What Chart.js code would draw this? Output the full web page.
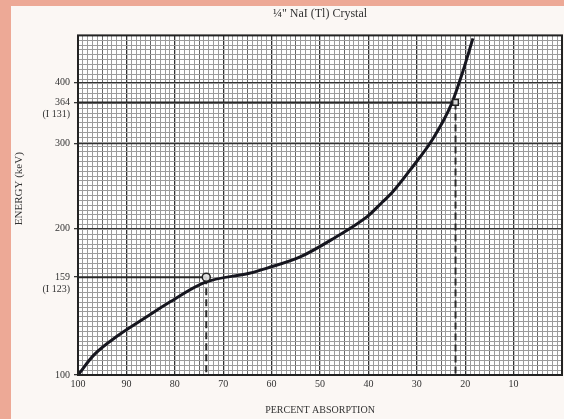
<!DOCTYPE html>
<html>
<head>
<meta charset="utf-8">
<script src="https://cdn.jsdelivr.net/npm/chart.js@4"></script>
<style>
  html, body { margin: 0; padding: 0; }
  body { width: 564px; height: 419px; background: #eda996; position: relative; overflow: hidden; }
  #panel { position: absolute; left: 11px; top: 6px; width: 553px; height: 413px; background: #fbf7f4; }
  #wrap { position: absolute; left: 0; top: 0; width: 564px; height: 419px; }
</style>
</head>
<body>
<div id="panel"></div>
<div id="wrap"><canvas id="c" width="564" height="419"></canvas></div>
<script>
// ---- data ----
const absorption = [100, 96.7, 91.5, 86.2, 81.2, 73.9, 64.6, 60.9, 54.1, 47.2, 40.2, 37.1, 35, 30.9, 26.7, 22.8, 20.5, 18.4];
const energy     = [100, 110, 121, 131, 141, 155, 162, 166, 175, 191, 212, 227, 238, 268, 306, 362, 421, 493];
const markAbsorption = [73.5, 22];
const markEnergy     = [159, 364];
const markIsotope    = ['(I 123)', '(I 131)'];
const xTickLabels    = [100, 90, 80, 70, 60, 50, 40, 30, 20, 10];
const yTickValues    = [100, 159, 200, 300, 364, 400];
const titleText = '\u00BC" NaI (Tl) Crystal';

const serif = '"Liberation Serif", "DejaVu Serif", serif';
const INK = '#16161f';

const datasets = [];
datasets.push({
  label: 'curve',
  data: absorption.map((a, i) => ({ x: a, y: energy[i] })),
  showLine: true, borderColor: INK, borderWidth: 3, pointRadius: 0,
  cubicInterpolationMode: 'monotone', fill: false, order: 1
});
markAbsorption.forEach((a, i) => {
  const e = markEnergy[i];
  datasets.push({
    label: 'h' + i, data: [{ x: 100, y: e }, { x: a, y: e }],
    showLine: true, borderColor: '#2a2a2a', borderWidth: 2, pointRadius: 0, order: 3
  });
  datasets.push({
    label: 'v' + i, data: [{ x: a, y: e }, { x: a, y: 100 }],
    showLine: true, borderColor: '#2a2a2a', borderWidth: 2, borderDash: [7, 4], pointRadius: 0, order: 3
  });
});
datasets.push({
  label: 'marks',
  data: markAbsorption.map((a, i) => ({ x: a, y: markEnergy[i] })),
  showLine: false, pointStyle: ['circle', 'rect'], pointRadius: 4,
  pointBackgroundColor: 'rgba(225,225,225,0.9)', pointBorderColor: '#222', pointBorderWidth: 1.5, order: 0
});

const framePlugin = {
  id: 'frame',
  beforeDraw(chart) {
    const { ctx, chartArea: a } = chart;
    ctx.save(); ctx.fillStyle = '#ffffff';
    ctx.fillRect(a.left, a.top, a.right - a.left, a.bottom - a.top);
    ctx.restore();
  },
  afterDraw(chart) {
    const { ctx, chartArea: a } = chart;
    ctx.save(); ctx.strokeStyle = '#222'; ctx.lineWidth = 2;
    ctx.strokeRect(a.left, a.top, a.right - a.left, a.bottom - a.top);
    ctx.restore();
  }
};

const pad = '\u00A0'.repeat(12);

new Chart(document.getElementById('c'), {
  type: 'scatter',
  data: { datasets },
  plugins: [framePlugin],
  options: {
    responsive: false, animation: false, devicePixelRatio: 1,
    layout: { autoPadding: false, padding: { left: 9, right: 2, top: 0, bottom: 0 } },
    plugins: {
      legend: { display: false }, tooltip: { enabled: false },
      title: { display: true, text: titleText, color: '#333', fullSize: false,
        font: { family: serif, size: 12, weight: 'normal' }, padding: { top: 7, bottom: 14 } }
    },
    scales: {
      x: {
        type: 'linear', position: 'bottom', reverse: true, min: 0, max: 100,
        afterBuildTicks: s => { const t = []; for (let v = 0; v <= 100; v++) t.push({ value: v }); s.ticks = t; },
        afterFit: s => { s.paddingLeft = 0; s.paddingRight = 0; },
        ticks: { autoSkip: false, maxRotation: 0, padding: 3, color: '#333',
          font: { family: serif, size: 10 },
          callback: v => xTickLabels.includes(v) ? String(v) : '' },
        grid: { drawTicks: false,
          color: c => { const v = c.tick.value; return v % 10 === 0 ? '#333' : (v % 5 === 0 ? '#666' : '#9c9c9c'); },
          lineWidth: c => (c.tick.value % 10 === 0 ? 1.3 : 1) },
        border: { display: false },
        title: { display: true, text: 'PERCENT ABSORPTION', color: '#333',
          font: { family: serif, size: 10 }, padding: { top: 11, bottom: 3 } }
      },
      y: {
        type: 'logarithmic', position: 'left', min: 100, max: 500,
        afterBuildTicks: s => { s.ticks = yTickValues.map(v => ({ value: v })); },
        afterFit: s => { s.width = 69; },
        ticks: { autoSkip: false, color: '#333', padding: 4, font: { family: serif, size: 10 },
          callback: v => { const i = markEnergy.indexOf(v); return i >= 0 ? ['', String(v), markIsotope[i]] : String(v); } },
        grid: { drawTicks: true, tickLength: 4,
          color: c => (markEnergy.includes(c.tick.value) ? 'rgba(0,0,0,0)' : '#333'),
          tickColor: '#333', lineWidth: 1.3 },
        border: { display: false },
        title: { display: true, text: pad + 'ENERGY (keV)', color: '#333',
          font: { family: serif, size: 11 }, padding: { top: 4, bottom: 4 } }
      },
      y2: {
        type: 'linear', position: 'right', min: 0, max: 70,
        afterBuildTicks: s => { const t = []; for (let v = 0; v <= 70; v++) t.push({ value: v }); s.ticks = t; },
        afterFit: s => { s.width = 0; },
        ticks: { display: false },
        grid: { drawTicks: false, color: '#9c9c9c', lineWidth: 1, drawOnChartArea: true },
        border: { display: false }
      }
    }
  }
});
</script>
</body>
</html>
